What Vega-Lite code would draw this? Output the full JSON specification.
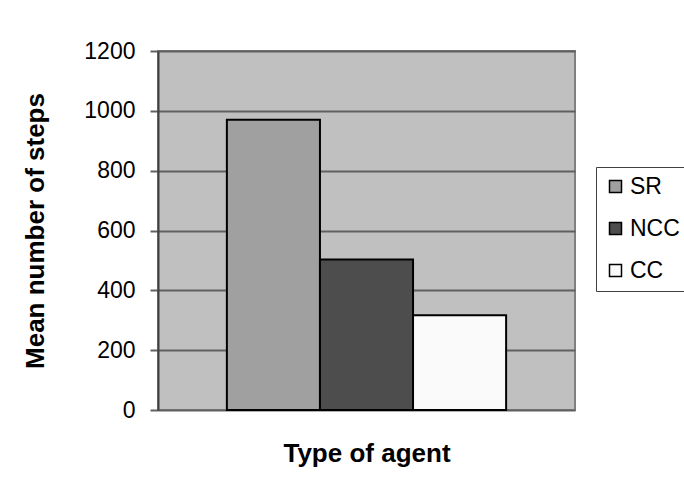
{
  "$schema": "https://vega.github.io/schema/vega-lite/v6.json",
  "width": 417,
  "height": 359,
  "autosize": {"type": "none"},
  "padding": {"left": 158, "top": 51, "right": 109, "bottom": 83},
  "background": "white",
  "config": {
    "font": "Liberation Sans",
    "view": {"fill": "#C0C0C0", "stroke": "#808080", "strokeWidth": 2}
  },
  "data": {
    "values": [
      {"agent": "SR", "steps": 970},
      {"agent": "NCC", "steps": 503},
      {"agent": "CC", "steps": 317}
    ]
  },
  "mark": {"type": "bar", "stroke": "black", "strokeWidth": 2},
  "encoding": {
    "x": {
      "field": "agent",
      "type": "nominal",
      "sort": ["SR", "NCC", "CC"],
      "scale": {"paddingInner": 0, "paddingOuter": 0.74},
      "axis": {
        "labels": false,
        "ticks": false,
        "domain": false,
        "title": "Type of agent",
        "titleFont": "Liberation Sans",
        "titleFontSize": 26,
        "titleFontWeight": "bold",
        "titleColor": "black",
        "titlePadding": 30
      }
    },
    "y": {
      "field": "steps",
      "type": "quantitative",
      "scale": {"domain": [0, 1200], "nice": false},
      "axis": {
        "values": [0, 200, 400, 600, 800, 1000, 1200],
        "format": "d",
        "title": "Mean number of steps",
        "titleFont": "Liberation Sans",
        "titleFontSize": 26,
        "titleFontWeight": "bold",
        "titleColor": "black",
        "titlePadding": 35,
        "labelFont": "Liberation Sans",
        "labelFontSize": 23,
        "labelColor": "black",
        "labelPadding": 15,
        "tickSize": 8,
        "tickColor": "#606060",
        "tickWidth": 2,
        "domainColor": "#404040",
        "domainWidth": 2,
        "grid": true,
        "gridColor": "#606060",
        "gridWidth": 2
      }
    },
    "color": {
      "field": "agent",
      "type": "nominal",
      "scale": {"domain": ["SR", "NCC", "CC"], "range": ["#A0A0A0", "#4D4D4D", "#FAFAFA"]},
      "legend": {
        "title": null,
        "orient": "none",
        "legendX": 438,
        "legendY": 116,
        "padding": 8,
        "strokeColor": "#404040",
        "fillColor": "white",
        "symbolType": "square",
        "symbolSize": 144,
        "symbolStrokeColor": "black",
        "symbolStrokeWidth": 1.5,
        "labelFont": "Liberation Sans",
        "labelFontSize": 23,
        "labelColor": "black",
        "labelOffset": 3,
        "rowPadding": 18
      }
    }
  }
}
